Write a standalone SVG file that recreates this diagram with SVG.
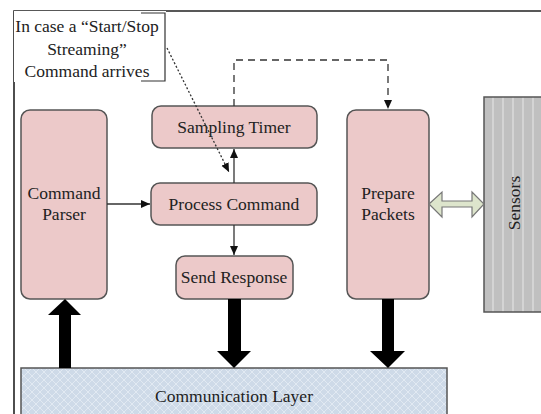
<svg xmlns="http://www.w3.org/2000/svg" width="541" height="414" viewBox="0 0 541 414">
<style>
.box{fill:#ecc9c9;stroke:#555;stroke-width:1.5}
.t{font-family:"Liberation Serif","Times New Roman",serif;font-size:17.5px;fill:#222;text-anchor:middle}
.ln{stroke:#333;stroke-width:1.3;fill:none}
.big{fill:#000}
</style>
<defs>
<marker id="ah" markerWidth="10" markerHeight="10" refX="9" refY="5" orient="auto" markerUnits="userSpaceOnUse">
<path d="M0,1 L9,5 L0,9 Z" fill="#111"/>
</marker>
<pattern id="hatch" width="8" height="8" patternUnits="userSpaceOnUse">
<rect width="8" height="8" fill="#cedae8"/>
<path d="M0,0 L8,8 M8,0 L0,8" stroke="#e6edf5" stroke-width="0.8"/>
</pattern>
<pattern id="stripes" width="10" height="10" patternUnits="userSpaceOnUse" x="484">
<rect width="10" height="10" fill="#c0c0c0"/>
<path d="M9,0 V10" stroke="#e8e8e8" stroke-width="1"/>
</pattern>
</defs>
<g id="frame">
<path d="M14,414 V11 H541" fill="none" stroke="#222" stroke-width="1.6"/>
</g>
<g id="callout">
<rect x="14" y="11" width="152" height="71" fill="#fff"/>
<path d="M141,13 H165 V81 H141" fill="none" stroke="#333" stroke-width="1.2"/>
<text class="t" x="87" y="32">In case a “Start/Stop</text>
<text class="t" x="87" y="55">Streaming”</text>
<text class="t" x="87" y="77">Command arrives</text>
</g>
<g id="communication-layer">
<rect x="21" y="368" width="426" height="50" fill="url(#hatch)" stroke="#555" stroke-width="1.5"/>
<text class="t" x="234" y="402">Communication Layer</text>
</g>
<g id="sensors">
<rect x="484" y="97" width="60" height="215" fill="url(#stripes)" stroke="#555" stroke-width="1.5"/>
<text class="t" transform="translate(520,203) rotate(-90)">Sensors</text>
</g>
<g id="command-parser">
<rect class="box" x="21" y="110" width="86" height="189" rx="9"/>
<text class="t" x="64" y="199">Command</text>
<text class="t" x="64" y="220">Parser</text>
</g>
<g id="sampling-timer">
<rect class="box" x="152" y="106" width="165" height="42" rx="9"/>
<text class="t" x="234" y="133">Sampling Timer</text>
</g>
<g id="process-command">
<rect class="box" x="151" y="183" width="166" height="42" rx="9"/>
<text class="t" x="234" y="210">Process Command</text>
</g>
<g id="send-response">
<rect class="box" x="176" y="256" width="117" height="43" rx="9"/>
<text class="t" x="234" y="283">Send Response</text>
</g>
<g id="prepare-packets">
<rect class="box" x="347" y="110" width="82" height="189" rx="9"/>
<text class="t" x="388" y="199">Prepare</text>
<text class="t" x="388" y="220">Packets</text>
</g>
<g id="connectors">
<path class="ln" d="M167,48 L229,172" stroke-dasharray="2,2" marker-end="url(#ah)"/>
<path class="ln" d="M234,106 V60 H388 V109" stroke-dasharray="7,5" marker-end="url(#ah)"/>
<path class="ln" d="M107,204 H150" marker-end="url(#ah)"/>
<path class="ln" d="M234,183 V149" marker-end="url(#ah)"/>
<path class="ln" d="M234,225 V255" marker-end="url(#ah)"/>
<path class="big" d="M59,368 V315 H48 L65,299 L81,315 H71 V368 Z"/>
<path class="big" d="M228,299 H241 V351 H251 L234,368 L217,351 H228 Z"/>
<path class="big" d="M382,299 H394 V351 H405 L388,368 L370,351 H382 Z"/>
<path d="M429,204 L442,192 V201 H472 V192 L484,204 L472,217 V207 H442 V217 Z" fill="#dde5cc" stroke="#777" stroke-width="1.2"/>
</g>
</svg>
